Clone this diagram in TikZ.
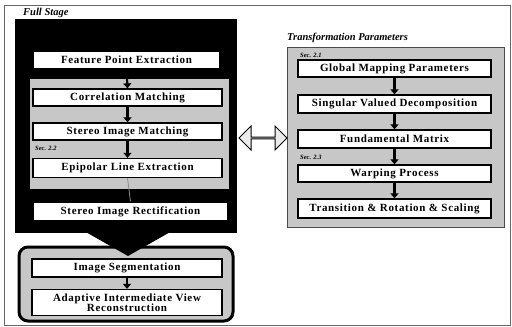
\documentclass[tikz,border=0pt]{standalone}
\usepackage{fontspec}
\setmainfont{Liberation Serif}
\newfontfamily\boxfont[LetterSpace=6]{Liberation Serif}
\usetikzlibrary{arrows.meta,shapes.arrows}
\begin{document}
\begin{tikzpicture}[x=1pt,y=-1pt,
  wbox/.style={draw=black,line width=1.3pt,fill=white,inner sep=0pt,minimum height=17pt,
    font=\boxfont\fontsize{11}{12}\selectfont\bfseries,align=center},
  sarrow/.style={line width=2.2pt,-{Triangle[width=8pt,length=5pt]}},
  seclabel/.style={font=\fontsize{6.5}{7}\selectfont\bfseries\itshape,anchor=west,inner sep=0pt},
  titlelabel/.style={font=\fontsize{10.5}{11}\selectfont\bfseries\itshape,anchor=west,inner sep=0pt},
  grayfill/.style={fill=black!22}]
\useasboundingbox (0,0) rectangle (512,327);
% outer frame
\draw[black!60,line width=0.8pt] (4,5) rectangle (510,325);
% left: full stage
\node[titlelabel] (fslabel) at (23,13) {Full Stage};
\fill[black] (15,19) rectangle (237,233);
\fill[grayfill] (30,79) rectangle (229,189);
\node[wbox,minimum width=187pt] (fpe) at (126.5,60) {Feature Point Extraction};
\node[wbox,minimum width=189pt] (cm) at (127.5,97.5) {Correlation Matching};
\node[wbox,minimum width=189pt] (sim) at (127.5,131.5) {Stereo Image Matching};
\node[seclabel] (sec22) at (35,148) {Sec. 2.2};
\node[wbox,minimum width=189pt,minimum height=19pt] (ele) at (127.5,168) {Epipolar Line Extraction};
\node[wbox,minimum width=195pt,minimum height=19pt] (sir) at (130.5,211.5) {Stereo Image Rectification};
\draw[sarrow] (fpe.south) -- (cm.north);
\draw[sarrow] (cm.south) -- (sim.north);
\draw[sarrow] (sim.south) -- (ele.north);
\draw[black!45,line width=0.8pt] (ele.south) -- (sir.north);
% big down arrow
\coordinate (bigA) at (84,231);
\coordinate (bigB) at (172,231);
\coordinate (bigC) at (128,256);
% rounded box
\draw[line width=3pt,grayfill,rounded corners=9pt] (19,247) rectangle (233,321);
\fill[black] (bigA) -- (bigB) -- (bigC) -- cycle;
\node[wbox,minimum width=190pt,minimum height=18pt] (iseg) at (127,268) {Image Segmentation};
\node[wbox,minimum width=190pt,minimum height=26pt,font=\boxfont\fontsize{11}{10.5}\selectfont\bfseries] (aivr) at (127,302.5) {Adaptive Intermediate View\\Reconstruction};
\draw[sarrow] (iseg.south) -- (aivr.north);
% right: transformation parameters
\node[titlelabel] (tplabel) at (287,38) {Transformation Parameters};
\draw[black!70,line width=0.8pt,grayfill] (287,47) rectangle (504,227);
\node[seclabel] (sec21) at (300,55) {Sec. 2.1};
\node[wbox,minimum width=193pt] (gmp) at (394.5,68.5) {Global Mapping Parameters};
\node[wbox,minimum width=193pt,minimum height=18pt] (svd) at (394.5,104) {Singular Valued Decomposition};
\node[wbox,minimum width=193pt,minimum height=18pt] (fm) at (394.5,139) {Fundamental Matrix};
\node[seclabel] (sec23) at (300,157) {Sec. 2.3};
\node[wbox,minimum width=193pt] (wp) at (394.5,173.5) {Warping Process};
\node[wbox,minimum width=193pt,minimum height=19pt] (trs) at (394.5,208.5) {Transition \& Rotation \& Scaling};
\draw[sarrow] (gmp.south) -- (svd.north);
\draw[sarrow] (svd.south) -- (fm.north);
\draw[sarrow] (fm.south) -- (wp.north);
\draw[sarrow] (wp.south) -- (trs.north);
% double arrow between the two stages
\node[double arrow,draw=black,line width=1pt,fill=black!8,minimum height=48pt,minimum width=24pt,
  double arrow head extend=6pt,inner sep=0pt,double arrow head indent=0pt] (dbl) at (263,138) {};
\end{tikzpicture}
\end{document}
